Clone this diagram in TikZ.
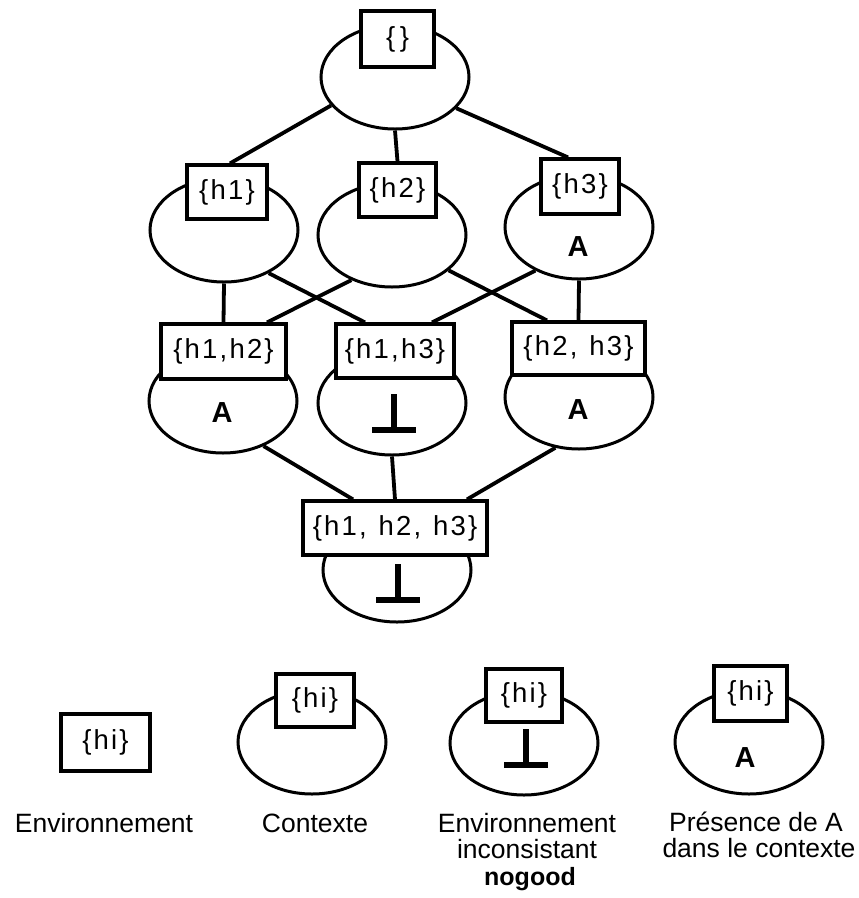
\documentclass[tikz,border=0pt]{standalone}
\usepackage{fontspec}
\setmainfont{Liberation Sans}
\newfontfamily\setfont[LetterSpace=8]{Liberation Sans}
\usetikzlibrary{shapes.geometric,calc,backgrounds}

\tikzset{
  ctx/.style={ellipse, draw, fill=white, line width=3pt,
    minimum width=148pt, minimum height=104pt, inner sep=0pt},
  envbox/.style={rectangle, draw, fill=white, line width=3.2pt, inner sep=0pt,
    font=\setfont\fontsize{27.5}{30}\selectfont},
  link/.style={line width=3.8pt},
  presA/.style={inner sep=0pt, font=\bfseries\fontsize{29}{30}\selectfont},
  caption/.style={anchor=base, inner sep=0pt, font=\fontsize{26.5}{27}\selectfont},
  falsum/.pic={
    \draw[line width=5.5pt] (0,-36) -- (0,0);
    \draw[line width=6.5pt] (-22,0) -- (22,0);
  }
}

\begin{document}
\begin{tikzpicture}[x=1pt, y=-1pt]
\useasboundingbox (0,0) rectangle (859,898);

% ---- lattice of contexts: ellipses ----
\node[ctx] (e0)   at (395,77)  {};
\node[ctx] (e1)   at (224,230) {};
\node[ctx] (e2)   at (392,235) {};
\node[ctx] (e3)   at (579,227) {};
\node[ctx] (e12)  at (223,401) {};
\node[ctx] (e13)  at (392,403) {};
\node[ctx] (e23)  at (579,397) {};
\node[ctx] (e123) at (397,570) {};

% ---- environments: boxes ----
\node[envbox, minimum width=73pt,  minimum height=56pt] (b0)   at (397.5,39)  {\{\,\}};
\node[envbox, minimum width=80pt,  minimum height=54pt] (b1)   at (227,192)   {\{h1\}};
\node[envbox, minimum width=77pt,  minimum height=54pt] (b2)   at (397.5,190) {\{h2\}};
\node[envbox, minimum width=78pt,  minimum height=55pt] (b3)   at (580,186.5) {\{h3\}};
\node[envbox, minimum width=125pt, minimum height=55pt] (b12)  at (223.5,351.5) {\{h1,h2\}};
\node[envbox, minimum width=118pt, minimum height=54pt] (b13)  at (395,351)   {\{h1,h3\}};
\node[envbox, minimum width=133pt, minimum height=53pt] (b23)  at (578.5,348.5) {\{h2,\ \kern2pt h3\}};
\node[envbox, minimum width=184pt, minimum height=54pt] (b123) at (395,528)   {\{h1,\ \kern2pt h2,\ \kern2pt h3\}};

% ---- contents of the contexts ----
\node[presA] (a3)  at (578,247) {A};
\node[presA] (a12) at (222,413) {A};
\node[presA] (a23) at (578,410) {A};
\pic at (394,430) {falsum};
\pic at (398,600) {falsum};

% ---- links between levels ----
\begin{scope}[on background layer]
  \draw[link] (e0.204)  -- ($(b1.north)+(3,0)$);
  \draw[link] (e0.south) -- (b2.north);
  \draw[link] (e0.-27)  -- ($(b3.north)+(-12,0)$);
  \draw[link] (e1.south) -- (b12.north);
  \draw[link] (e1.-44)  -- ($(b13.north)+(-30,0)$);
  \draw[link] (e2.-132) -- ($(b12.north)+(43.5,0)$);
  \draw[link] (e2.-32)  -- ($(b23.north)+(-31.5,0)$);
  \draw[link] (e3.-135) -- ($(b13.north)+(37,0)$);
  \draw[link] (e3.south) -- (b23.north);
  \draw[link] (e12.-48) -- ($(b123.north)+(-42,0)$);
  \draw[link] (e13.south) -- (b123.north);
  \draw[link] (e23.-115) -- ($(b123.north)+(72,0)$);
\end{scope}

% ---- legend ----
\node[envbox, minimum width=89pt, minimum height=57pt] (lenv) at (105.5,742.5) {\{hi\}};

\node[ctx] (lctx) at (312,742) {};
\node[envbox, minimum width=78pt, minimum height=53pt] (lctxb) at (315,700.5) {\{hi\}};

\node[ctx] (lnog) at (524,743) {};
\node[envbox, minimum width=76pt, minimum height=53pt] (lnogb) at (524,695.5) {\{hi\}};
\pic at (526,765) {falsum};

\node[ctx] (lpres) at (749,742) {};
\node[envbox, minimum width=73pt, minimum height=55pt] (lpresb) at (750.5,693.5) {\{hi\}};
\node[presA] (lpresA) at (745,758) {A};

\node[caption] (c1)  at (104,832) {Environnement};
\node[caption] (c2)  at (315,832) {Contexte};
\node[caption] (c3a) at (527,832) {Environnement};
\node[caption] (c3b) at (527,858) {inconsistant};
\node[caption, font=\bfseries\fontsize{25}{27}\selectfont] (c3c) at (530,885) {nogood};
\node[caption] (c4a) at (756,831) {Présence de A};
\node[caption] (c4b) at (759,857) {dans le contexte};
\end{tikzpicture}
\end{document}
